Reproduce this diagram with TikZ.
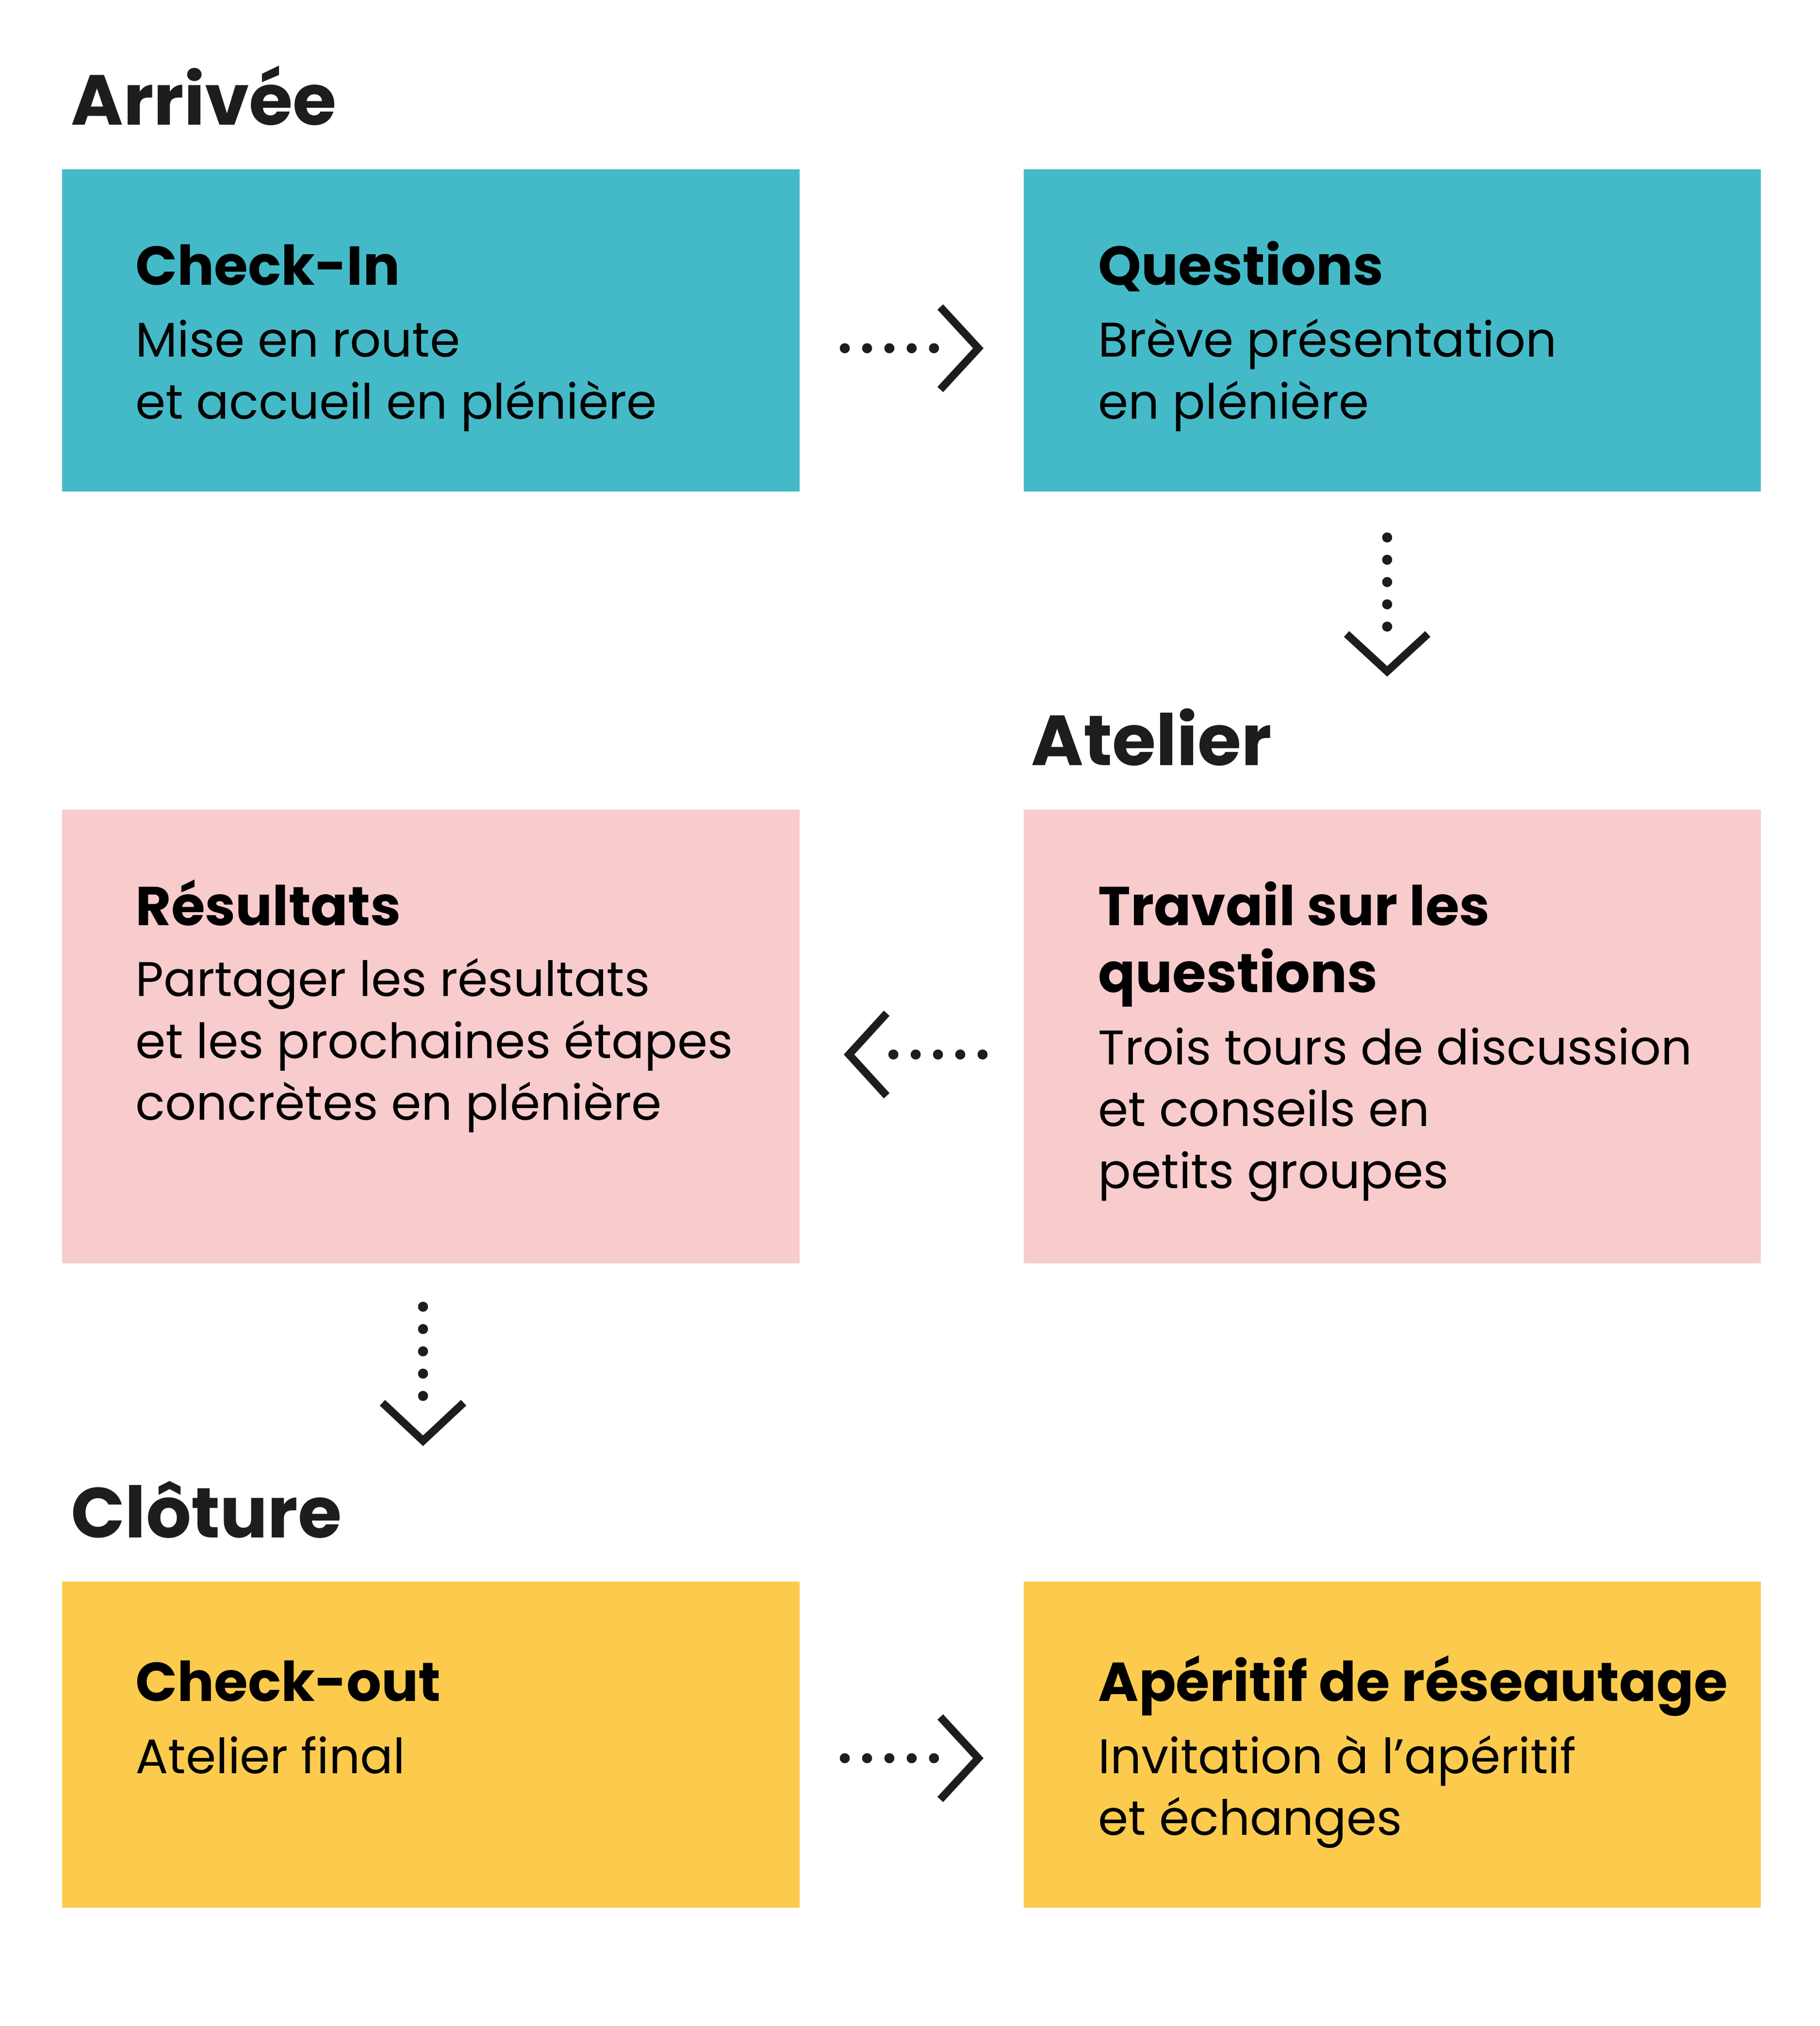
\documentclass[tikz,border=0pt]{standalone}
\usepackage{fontspec}
\setmainfont{Poppins}
\usetikzlibrary{calc}
\definecolor{cteal}{HTML}{44BAC8}
\definecolor{cpink}{HTML}{F8CBCC}
\definecolor{cyell}{HTML}{FCCB4E}
\definecolor{cink}{HTML}{1D1D1B}
\tikzset{
  box/.style={rectangle, inner sep=0pt, draw=none, minimum width=572pt, anchor=north west},
  head/.style={anchor=base west, inner sep=0pt, text=cink, font=\bfseries\fontsize{55}{60}\selectfont},
  ttl/.style={anchor=base west, inner sep=0pt, text=black, font=\bfseries\fontsize{42.5}{52}\selectfont},
  bdy/.style={anchor=base west, inner sep=0pt, text=black, font=\fontsize{37.7}{48}\selectfont},
  dotline/.style={draw=cink, line width=7.8pt, line cap=round, dash pattern=on 0pt off 17.3pt},
  chev/.style={draw=cink, line width=6pt, miter limit=10},
}
\begin{document}
\begin{tikzpicture}[x=1pt,y=-1pt]
\useasboundingbox (0,0) rectangle (1412,1572);
% boxes
\node[box, fill=cteal, minimum height=250pt] (b1) at (48,131) {};
\node[box, fill=cteal, minimum height=250pt] (b2) at (794,131) {};
\node[box, fill=cpink, minimum height=352pt] (b3) at (794,628) {};
\node[box, fill=cpink, minimum height=352pt] (b4) at (48,628) {};
\node[box, fill=cyell, minimum height=253pt] (b5) at (48,1227) {};
\node[box, fill=cyell, minimum height=253pt] (b6) at (794,1227) {};
% headings
\node[head] (h1) at (55,97) {Arrivée};
\node[head] (h2) at (800,594) {Atelier};
\node[head] (h3) at (55,1193) {Clôture};
% texts
\node[ttl] (t1) at (105,221) {Check-In};
\node[bdy] (d1) at (105,277) {\vtop{\hbox{Mise en route}\hbox{et accueil en plénière}}};
\node[ttl] (t2) at (852,221) {Questions};
\node[bdy] (d2) at (852,277) {\vtop{\hbox{Brève présentation}\hbox{en plénière}}};
\node[ttl] (t3) at (852,718) {\vtop{\hbox{Travail sur les}\hbox{questions}}};
\node[bdy] (d3) at (852,826) {\vtop{\hbox{Trois tours de discussion}\hbox{et conseils en}\hbox{petits groupes}}};
\node[ttl] (t4) at (105,718) {Résultats};
\node[bdy] (d4) at (105,773) {\vtop{\hbox{Partager les résultats}\hbox{et les prochaines étapes}\hbox{concrètes en plénière}}};
\node[ttl] (t5) at (105,1320) {Check-out};
\node[bdy] (d5) at (105,1376) {Atelier final};
\node[ttl] (t6) at (852,1320) {Apéritif de réseautage};
\node[bdy] (d6) at (852,1376) {\vtop{\hbox{Invitation à l’apéritif}\hbox{et échanges}}};
% connectors
% b1 -> b2
\draw[dotline] ($(b1.east)+(35,14)$) -- ($(b1.east)+(104.5,14)$);
\draw[chev] ($(b2.west)+(-64.5,-18)$) -- ($(b2.west)+(-35,14)$) -- ($(b2.west)+(-64.5,46)$);
% b2 -> b3
\draw[dotline] ($(b2.south)+(-4,35.6)$) -- ($(b2.south)+(-4,105)$);
\draw[chev] ($(b2.south)+(-35.5,110.5)$) -- ($(b2.south)+(-4,139.5)$) -- ($(b2.south)+(27.5,110.5)$);
% b3 -> b4
\draw[dotline] ($(b3.west)+(-31.7,14)$) -- ($(b3.west)+(-101.2,14)$);
\draw[chev] ($(b4.east)+(67.5,-18)$) -- ($(b4.east)+(38.3,14)$) -- ($(b4.east)+(67.5,46)$);
% b4 -> b5
\draw[dotline] ($(b4.south)+(-6,33.5)$) -- ($(b4.south)+(-6,103)$);
\draw[chev] ($(b4.south)+(-37.5,108)$) -- ($(b4.south)+(-6,137.5)$) -- ($(b4.south)+(25.5,108)$);
% b5 -> b6
\draw[dotline] ($(b5.east)+(35,10.5)$) -- ($(b5.east)+(104.5,10.5)$);
\draw[chev] ($(b6.west)+(-64.5,-21.5)$) -- ($(b6.west)+(-35,10.5)$) -- ($(b6.west)+(-64.5,42.5)$);
\end{tikzpicture}
\end{document}
